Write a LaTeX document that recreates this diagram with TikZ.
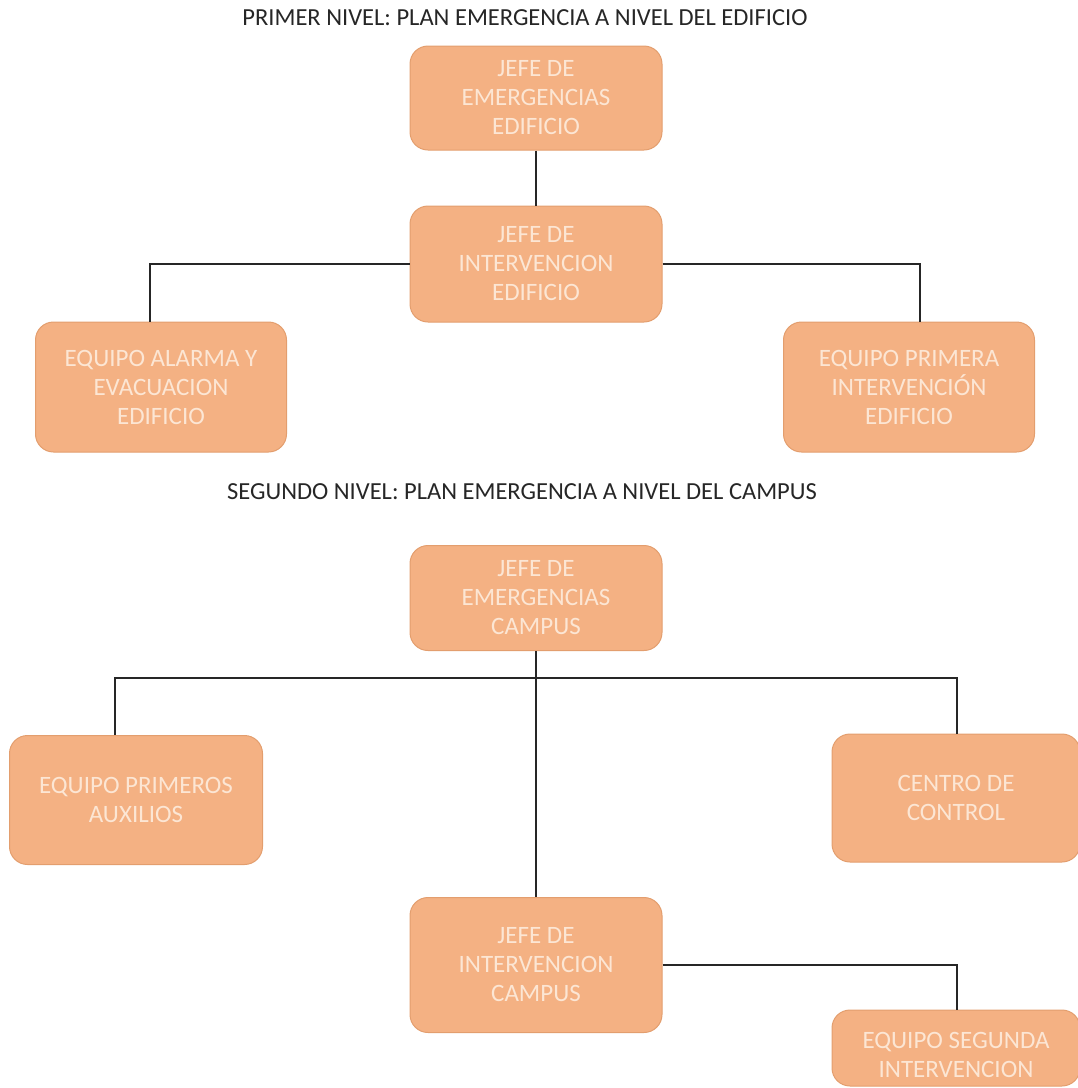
\documentclass[tikz,border=0pt]{standalone}
\usepackage{fontspec}
\setmainfont{Carlito}
\definecolor{boxfill}{HTML}{F4B183}
\definecolor{boxedge}{HTML}{E39E6E}
\definecolor{boxtext}{HTML}{FCE6D4}
\definecolor{titletext}{HTML}{262626}
\begin{document}
\begin{tikzpicture}[x=1pt,y=-1pt,
  orgbox/.style={draw=boxedge, line width=1pt, fill=boxfill, rounded corners=18pt,
    text=boxtext, align=center, font=\fontsize{25}{29}\selectfont, inner sep=0pt},
  boxlabel/.style={text=boxtext, align=center, font=\fontsize{25}{29}\selectfont, inner sep=0pt},
  title/.style={text=titletext, font=\fontsize{24.5}{28}\selectfont},
  link/.style={draw=black!85, line width=1.4pt}]
\useasboundingbox (0,0) rectangle (1078,1088);
\node[title] (t1) at (525,18) {PRIMER NIVEL: PLAN EMERGENCIA A NIVEL DEL EDIFICIO};
\node[title] (t2) at (522,492) {SEGUNDO NIVEL: PLAN EMERGENCIA A NIVEL DEL CAMPUS};

\node[orgbox, minimum width=252pt, minimum height=104pt] (je1) at (536,98) {JEFE DE\\EMERGENCIAS\\EDIFICIO};
\node[orgbox, minimum width=252pt, minimum height=116pt] (ji1) at (536,264) {JEFE DE\\INTERVENCION\\EDIFICIO};
\node[orgbox, minimum width=251pt, minimum height=130pt] (ea) at (161,387) {EQUIPO ALARMA Y\\EVACUACION\\EDIFICIO};
\node[orgbox, minimum width=251pt, minimum height=130pt] (ep) at (909,387) {EQUIPO PRIMERA\\INTERVENCIÓN\\EDIFICIO};

\node[orgbox, minimum width=252pt, minimum height=105pt] (je2) at (536,598) {JEFE DE\\EMERGENCIAS\\CAMPUS};
\node[orgbox, minimum width=253pt, minimum height=129pt] (pa) at (136,800) {EQUIPO PRIMEROS\\AUXILIOS};
\node[orgbox, minimum width=248pt, minimum height=128pt] (cc) at (956,798) {CENTRO DE\\CONTROL};
\node[orgbox, minimum width=252pt, minimum height=135pt] (ji2) at (536,965) {JEFE DE\\INTERVENCION\\CAMPUS};
\node[orgbox, minimum width=248pt, minimum height=76pt] (es) at (956,1048) {};
\node[boxlabel] (estext) at (956,1055) {EQUIPO SEGUNDA\\INTERVENCION};

\coordinate (a1) at (150,264);
\coordinate (a2) at (920,264);
\coordinate (b1) at (115,678);
\coordinate (b2) at (957,678);
\coordinate (b0) at (536,678);
\coordinate (c1) at (957,965);

\draw[link] (je1.south) -- (ji1.north);
\draw[link] (ji1.west) -- (a1) -- (a1 |- ea.north);
\draw[link] (ji1.east) -- (a2) -- (a2 |- ep.north);
\draw[link] (je2.south) -- (ji2.north);
\draw[link] (b0) -- (b1) -- (b1 |- pa.north);
\draw[link] (b0) -- (b2) -- (b2 |- cc.north);
\draw[link] (ji2.east) -- (c1) -- (c1 |- es.north);
\end{tikzpicture}
\end{document}
